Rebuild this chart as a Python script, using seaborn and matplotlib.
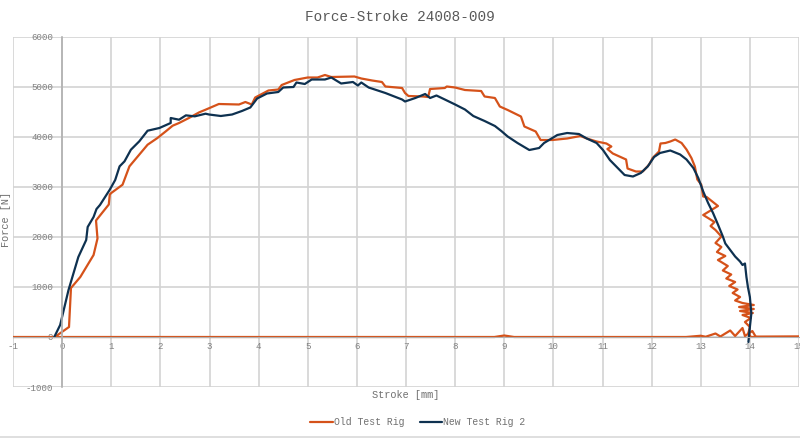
import matplotlib
matplotlib.use("Agg")
import matplotlib.pyplot as plt
import seaborn as sns
import pandas as pd
from matplotlib.lines import Line2D

# ---------------- data ----------------
old_x = [-0.15, 0.14, 0.18, 0.37, 0.64, 0.72, 0.69, 0.95, 0.97, 1.0, 1.23, 1.37, 1.54, 1.74, 1.94,
         2.11, 2.25, 2.38, 2.58, 2.79, 2.92, 3.19, 3.6, 3.73, 3.86, 3.93, 4.2, 4.4, 4.47, 4.73,
         5.0, 5.2, 5.35, 5.48, 5.95, 6.09, 6.31, 6.51, 6.58, 6.92, 6.98, 7.05, 7.35, 7.45, 7.49,
         7.79, 7.83, 8.0, 8.2, 8.53, 8.60, 8.81, 8.91, 9.07, 9.34, 9.41, 9.64, 9.74, 9.98, 10.28,
         10.55, 10.68, 10.88, 11.08, 11.18, 11.10, 11.21, 11.48, 11.51, 11.68, 11.82, 11.95, 12.02,
         12.15, 12.18, 12.28, 12.38, 12.48, 12.61, 12.71, 12.81, 12.88, 12.93, 13.01, 13.05, 13.12,
         13.35, 13.05, 13.28, 13.20, 13.30, 13.42, 13.30, 13.42, 13.33, 13.50, 13.35, 13.55, 13.45,
         13.62, 13.52, 13.70, 13.58, 13.75, 13.65, 13.80, 13.70, 13.85, 14.08, 13.78, 14.08, 13.80,
         14.06, 13.85, 14.02, 13.90, 14.0, 13.97, 14.02,
         15.0, 14.12, 14.05, 13.9, 13.85, 13.7, 13.6, 13.4, 13.3, 13.1, 13.0, 12.7, 9.2, 9.0, 8.8, -1.0]
old_y = [0, 200, 980, 1200, 1640, 1970, 2330, 2650, 2850, 2880, 3046, 3413, 3613, 3846, 3980,
         4113, 4226, 4280, 4380, 4493, 4546, 4660, 4650, 4700, 4650, 4790, 4930, 4950, 5040, 5140,
         5190, 5190, 5240, 5200, 5210, 5170, 5130, 5100, 5010, 4980, 4880, 4820, 4810, 4800, 4960,
         4980, 5010, 4990, 4940, 4920, 4810, 4780, 4610, 4540, 4410, 4210, 4110, 3940, 3940, 3970,
         4020, 3970, 3910, 3870, 3810, 3760, 3670, 3550, 3370, 3310, 3310, 3450, 3580,
         3710, 3870, 3880, 3910, 3950, 3880, 3750, 3580, 3410, 3150, 3050, 2810, 2800,
         2620, 2440, 2300, 2220, 2140, 2010, 1880, 1800, 1700, 1620, 1540, 1420, 1330,
         1250, 1170, 1100, 1020, 950, 880, 800, 730, 680, 640, 600, 560, 520,
         480, 440, 380, 300, 200, 80, 0,
         5, 5, 120, 20, 180, 20, 130, 10, 70, 5, 25, 0, 0, 30, 0, 0]

new_x = [-0.16, -0.04, 0.13, 0.33, 0.49, 0.52, 0.64, 0.70, 0.77, 0.97, 1.08, 1.17, 1.27, 1.40,
         1.57, 1.74, 1.98, 2.21, 2.21, 2.38, 2.52, 2.70, 2.92, 2.99, 3.23, 3.46, 3.66, 3.83, 3.97,
         4.17, 4.4, 4.5, 4.71, 4.77, 4.94, 5.08, 5.35, 5.48, 5.68, 5.92, 6.02, 6.09, 6.24, 6.58,
         6.92, 6.98, 7.19, 7.39, 7.49, 7.62, 7.79, 8.0, 8.2, 8.37, 8.6, 8.81, 8.94, 9.07, 9.27,
         9.51, 9.71, 9.81, 9.98, 10.08, 10.28, 10.52, 10.68, 10.88, 11.01, 11.15, 11.28, 11.45,
         11.62, 11.78, 11.92, 12.05, 12.17, 12.38, 12.58, 12.71, 12.85, 12.95, 13.05, 13.15, 13.25,
         13.35, 13.40, 13.45, 13.5, 13.6, 13.7, 13.75, 13.8, 13.85, 13.9, 13.93, 13.96, 14.0, 14.03,
         14.0, 13.97]
new_y = [0, 240, 940, 1600, 1940, 2200, 2400, 2560, 2640, 2946, 3140, 3413, 3513, 3746,
         3913, 4126, 4180, 4280, 4380, 4346, 4433, 4413, 4466, 4450, 4420, 4450, 4520, 4590, 4770,
         4870, 4900, 4990, 5000, 5090, 5060, 5150, 5150, 5190, 5070, 5100, 5030, 5090, 4990, 4880,
         4750, 4710, 4780, 4860, 4780, 4830, 4750, 4650, 4550, 4420, 4320, 4220, 4120, 4010, 3880,
         3740, 3780, 3880, 3980, 4040, 4080, 4060, 3970, 3880, 3740, 3540, 3410, 3240,
         3210, 3280, 3410, 3600, 3680, 3730, 3650, 3550, 3380, 3180, 2910, 2680, 2480,
         2250, 2130, 2010, 1870, 1740, 1610, 1560, 1510, 1440, 1470, 1200, 1000, 800, 470,
         200, -100]

series_names = ["Old Test Rig", "New Test Rig 2"]
title = "Force-Stroke 24008-009"
x_ticks = list(range(-1, 16))
y_ticks = list(range(-1000, 7000, 1000))

# ---------------- table ----------------
df = pd.concat([
    pd.DataFrame({"stroke": old_x, "force": old_y, "rig": series_names[0], "order": range(len(old_x))}),
    pd.DataFrame({"stroke": new_x, "force": new_y, "rig": series_names[1], "order": range(len(new_x))}),
], ignore_index=True)

# ---------------- plot ----------------
sns.set_style("white")
plt.rcParams["font.family"] = ["Liberation Mono", "DejaVu Sans"]

fig = plt.figure(figsize=(8, 4.4), dpi=100)
ax = fig.add_axes([13 / 800, 1 - 387 / 440, 786 / 800, 350 / 440])

palette = {series_names[0]: "#D5521A", series_names[1]: "#0E3150"}
sns.lineplot(data=df, x="stroke", y="force", hue="rig", hue_order=series_names,
             palette=palette, sort=False, estimator=None, units="rig", lw=1.6, ax=ax)

ax.set_xlim(-1, 15)
ax.set_ylim(-1000, 6000)
ax.set_xticks(x_ticks)
ax.set_yticks(y_ticks)
ax.set_xticklabels([str(v) for v in x_ticks])
ax.set_yticklabels([str(v) for v in y_ticks])
ax.grid(True, color="#d3d3d3", lw=1.2)
ax.set_axisbelow(True)

for s in ["top", "right"]:
    ax.spines[s].set_visible(False)
ax.spines["left"].set_position(("data", 0))
ax.spines["bottom"].set_position(("data", 0))
ax.spines["left"].set_color("#b0b0b0")
ax.spines["bottom"].set_color("#b0b0b0")
ax.spines["left"].set_linewidth(1.2)
ax.tick_params(axis="both", length=0, labelsize=6.6, labelcolor="#808080")
ax.tick_params(axis="y", pad=6.5)
ax.tick_params(axis="x", pad=3.5)

ax.set_xlabel("Stroke [mm]", fontsize=7.4, color="#707070")
ax.set_ylabel("Force [N]", fontsize=7.4, color="#707070")
ax.xaxis.set_label_coords(0.5, -0.009)
ax.yaxis.set_label_coords(-0.003, 0.48)

fig.text(0.5, 1 - 17 / 440, title, ha="center", va="center", fontsize=10.4, color="#595959")

sns.move_legend(ax, "center", bbox_to_anchor=(0.515, -0.1), ncol=2, frameon=False, title=None,
                fontsize=7, handlelength=2.3, handletextpad=0.1, columnspacing=1.6)
for t in ax.get_legend().get_texts():
    t.set_color("#707070")

fig.add_artist(Line2D([0, 1], [1 - 437 / 440] * 2, color="#d9d9d9", lw=1.2))

fig.savefig("out.png", dpi=100)
